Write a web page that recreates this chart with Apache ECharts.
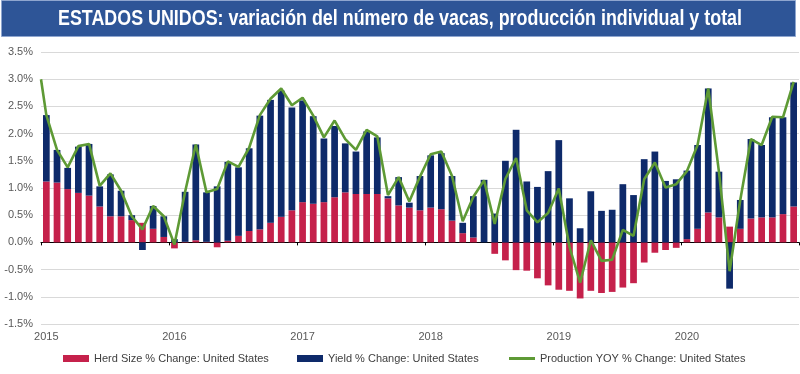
<!DOCTYPE html>
<html>
<head>
<meta charset="utf-8">
<script src="https://cdn.jsdelivr.net/npm/echarts@6/dist/echarts.min.js"></script>
<style>
html,body{margin:0;padding:0;background:#fff;}
#chart{width:800px;height:374px;}
</style>
</head>
<body>
<div id="chart"></div>
<script>
// ---- Data (monthly, Jan 2015 - Nov 2020) ----
const years = ['2015','2016','2017','2018','2019','2020'];
const monthsCount = 71;
const titleText = 'ESTADOS UNIDOS: variación del número de vacas, producción individual y total';
const seriesNames = ['Herd Size % Change: United States','Yield % Change: United States','Production YOY % Change: United States'];
const yTicks = {min:-1.5, max:3.5, step:0.5};

const herdSize = [
  1.12,1.10,0.98,0.91,0.86,0.66,0.48,0.48,0.41,0.36,0.25,0.10,
  -0.11,0.01,0.04,0.01,-0.09,0.03,0.12,0.21,0.24,0.36,0.47,0.59,
  0.74,0.71,0.74,0.83,0.92,0.89,0.89,0.89,0.81,0.68,0.64,0.59,
  0.64,0.61,0.40,0.17,0.09,0.00,-0.21,-0.33,-0.51,-0.52,-0.66,-0.79,
  -0.87,-0.89,-1.03,-0.89,-0.93,-0.91,-0.83,-0.75,-0.37,-0.19,-0.14,-0.10,
  0.06,0.25,0.55,0.46,0.29,0.25,0.44,0.46,0.46,0.52,0.66
];
const yieldChange = [
  1.22,0.60,0.39,0.85,0.95,0.37,0.77,0.47,0.09,-0.14,0.42,0.38,
  0.06,0.92,1.76,0.91,1.03,1.45,1.26,1.52,2.09,2.26,2.32,1.89,
  1.87,1.61,1.17,1.31,0.90,0.78,1.15,1.04,0.04,0.52,0.09,0.63,
  0.96,1.03,0.82,0.19,0.76,1.15,0.53,1.50,2.07,1.12,1.02,1.31,
  1.88,0.81,0.26,0.94,0.58,0.60,1.07,0.87,1.53,1.67,1.13,1.16,
  1.26,1.54,2.28,0.84,-0.85,0.53,1.46,1.33,1.84,1.78,2.28
];
const productionStart = 3.00; // value at the left edge of the axis
const production = [
  2.34,1.70,1.38,1.77,1.81,1.04,1.27,0.95,0.48,0.24,0.67,0.48,
  -0.04,0.93,1.80,0.92,0.98,1.49,1.39,1.74,2.34,2.64,2.83,2.52,
  2.66,2.33,1.93,2.24,1.90,1.70,2.07,1.95,0.87,1.20,0.75,1.21,
  1.62,1.67,1.22,0.39,0.84,1.14,0.34,1.17,1.55,0.59,0.37,0.54,
  0.99,-0.08,-0.74,0.04,-0.34,-0.32,0.23,0.12,1.16,1.47,1.01,1.07,
  1.31,1.79,2.83,1.30,-0.53,0.78,1.90,1.79,2.31,2.30,2.95
];

// categories built from years x months
const categories = [];
for (let i = 0; i < monthsCount; i++) {
  const y = years[Math.floor(i / 12)];
  const m = String(i % 12 + 1).padStart(2, '0');
  categories.push(y + '-' + m);
}
const lineData = [[0, productionStart]].concat(production.map((v, i) => [i + 0.5, v]));

const C_RED = '#C5214B', C_BLUE = '#0E2A6A', C_GREEN = '#5E9A35';
const FONT = "'Liberation Sans', Arial, sans-serif";
const TITLE_FONT = "bold 22px 'Liberation Sans', Arial, sans-serif";

// fit title to the banner text width of the reference (~684px)
const mctx = document.createElement('canvas').getContext('2d');
mctx.font = TITLE_FONT;
const titleScale = 684 / mctx.measureText(titleText).width;

const legendBase = {icon: 'rect', itemWidth: 26, itemHeight: 7, padding: 0, top: 353,
  textStyle: {fontSize: 11, color: '#404040', fontFamily: FONT}};

const chart = echarts.init(document.getElementById('chart'), null, {renderer: 'canvas'});
chart.setOption({
  animation: false,
  backgroundColor: '#fff',
  textStyle: {fontFamily: FONT},
  graphic: [
    {type: 'rect', z: 100, shape: {x: 1.5, y: 0.5, width: 794, height: 36}, style: {fill: '#2E5597', stroke: '#8FA6CF', lineWidth: 1}},
    {type: 'text', z: 101, x: 400, y: 19, scaleX: titleScale, scaleY: 1,
      style: {text: titleText, fill: '#fff', font: TITLE_FONT, align: 'center', verticalAlign: 'middle'}}
  ],
  grid: {left: 41, right: 1, top: 52, bottom: 50, containLabel: false},
  legend: [
    Object.assign({}, legendBase, {data: [seriesNames[0]], left: 63}),
    Object.assign({}, legendBase, {data: [seriesNames[1]], left: 297}),
    Object.assign({}, legendBase, {data: [seriesNames[2]], left: 509, itemHeight: 3})
  ],
  xAxis: [
    {
      type: 'category', data: categories, position: 'bottom',
      axisLine: {show: false, onZero: false}, axisTick: {show: false},
      axisLabel: {interval: 0, margin: 7, fontSize: 11, color: '#595959',
        formatter: v => v.endsWith('-01') ? v.slice(0, 4) : ''},
      splitLine: {show: false}
    },
    {
      type: 'value', min: 0, max: monthsCount, interval: 12, position: 'top',
      axisLine: {show: true, onZero: true, lineStyle: {color: '#000', width: 1.2}},
      axisTick: {show: true, inside: true, length: 3, lineStyle: {color: '#000'}},
      axisLabel: {show: false}, splitLine: {show: false}
    }
  ],
  yAxis: {
    type: 'value', min: yTicks.min, max: yTicks.max, interval: yTicks.step,
    axisLine: {show: false}, axisTick: {show: false},
    axisLabel: {margin: 8, fontSize: 11, color: '#595959', formatter: v => v.toFixed(1) + '%'},
    splitLine: {lineStyle: {color: '#D9D9D9', width: 1}}
  },
  series: [
    {name: seriesNames[0], type: 'bar', stack: 'total', xAxisIndex: 0, data: herdSize,
      barCategoryGap: '37%', itemStyle: {color: C_RED}},
    {name: seriesNames[1], type: 'bar', stack: 'total', xAxisIndex: 0, data: yieldChange,
      barCategoryGap: '37%', itemStyle: {color: C_BLUE}},
    {name: seriesNames[2], type: 'line', xAxisIndex: 1, data: lineData, z: 5,
      showSymbol: false, symbol: 'none', lineStyle: {color: C_GREEN, width: 2.6}, itemStyle: {color: C_GREEN}}
  ]
});
</script>
</body>
</html>
